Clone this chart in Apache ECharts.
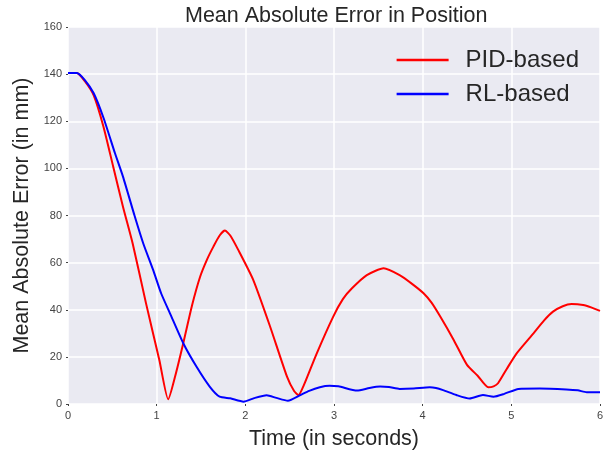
<!DOCTYPE html>
<html>
<head>
<meta charset="utf-8">
<script src="https://cdn.jsdelivr.net/npm/echarts@6/dist/echarts.min.js"></script>
<style>
  html, body { margin: 0; padding: 0; background: #fff; }
  #main { width: 616px; height: 453px; }
</style>
</head>
<body>
<div id="main"></div>
<script>
// values
var pidTime = [0, 0.1, 0.19, 0.29, 0.4, 0.51, 0.62, 0.73, 0.88, 1.03, 1.13, 1.21, 1.3, 1.4, 1.49, 1.57, 1.64, 1.71, 1.77, 1.83, 1.92, 2.09, 2.28, 2.47, 2.55, 2.6, 2.66, 2.8, 2.99, 3.1, 3.2, 3.37, 3.56, 3.74, 3.88, 4.01, 4.1, 4.2, 4.35, 4.5, 4.62, 4.74, 4.8, 4.85, 4.95, 5.06, 5.25, 5.37, 5.47, 5.58, 5.68, 5.81, 5.9, 6.0];
var pidError = [140.5, 140.5, 137, 131, 117.7, 100.7, 83.7, 68, 42.7, 18.7, 2.0, 12, 25.8, 42, 54, 61.5, 66.8, 71.5, 73.6, 71.5, 65.4, 52.6, 32.8, 11.6, 5.5, 3.8, 8, 21, 37, 44.5, 49, 54.7, 57.6, 54.7, 51, 47, 43, 37, 27.2, 16.6, 12, 7.1, 7.5, 8.8, 15, 21.5, 30, 35.5, 39.2, 41.5, 42.4, 42, 41, 39.5];

var rlTime = [0, 0.1, 0.19, 0.29, 0.4, 0.53, 0.62, 0.75, 0.85, 0.96, 1.05, 1.15, 1.3, 1.45, 1.6, 1.71, 1.83, 1.98, 2.1, 2.24, 2.35, 2.48, 2.62, 2.72, 2.84, 2.95, 3.05, 3.26, 3.4, 3.52, 3.62, 3.74, 3.9, 4.08, 4.15, 4.23, 4.38, 4.53, 4.68, 4.8, 4.92, 5.08, 5.32, 5.62, 5.75, 5.85, 6.0];
var rlError = [140.5, 140.5, 137.5, 131.9, 121.5, 106.4, 96.5, 80, 68, 56.9, 47, 38.5, 25.8, 15.8, 7.3, 3.1, 2.4, 1.0, 2.5, 3.7, 2.6, 1.4, 3.8, 5.6, 7.1, 7.7, 7.5, 5.7, 6.8, 7.4, 7.2, 6.4, 6.6, 7.1, 6.8, 5.9, 3.8, 2.3, 3.8, 3.1, 4.3, 6.4, 6.6, 6.2, 5.8, 5.0, 5.0];

var xTicks = [0, 1, 2, 3, 4, 5, 6];
var yTicks = [0, 20, 40, 60, 80, 100, 120, 140, 160];

function pairs(xs, ys) {
  return xs.map(function (x, i) { return [x, ys[i]]; });
}

var font = '"Liberation Sans", Arial, sans-serif';
var chart = echarts.init(document.getElementById('main'));

var option = {
  backgroundColor: '#ffffff',
  animation: false,
  title: {
    text: 'Mean Absolute Error in Position',
    left: 180,
    top: 0,
    textStyle: { fontFamily: font, fontSize: 21.5, fontWeight: 'normal', color: '#262626' }
  },
  grid: {
    left: 68,
    right: 16,
    top: 27,
    bottom: 49,
    outerBoundsMode: 'none',
    show: true,
    backgroundColor: '#eaeaf2',
    borderWidth: 0
  },
  legend: {
    orient: 'vertical',
    right: 32,
    top: 43,
    icon: 'rect',
    itemWidth: 52,
    itemHeight: 2.5,
    itemGap: 10,
    textStyle: { fontFamily: font, fontSize: 24, color: '#262626', padding: [0, 0, 0, 12] },
    data: ['PID-based', 'RL-based']
  },
  xAxis: {
    type: 'value',
    min: xTicks[0],
    max: xTicks[xTicks.length - 1],
    interval: 1,
    name: 'Time (in seconds)',
    nameLocation: 'middle',
    nameGap: 24,
    nameTextStyle: { fontFamily: font, fontSize: 21.5, color: '#262626' },
    axisLine: { show: false },
    axisTick: { show: true, length: 2, lineStyle: { color: '#444' } },
    axisLabel: { fontFamily: font, fontSize: 11, color: '#444', margin: 6 },
    splitLine: { show: true, lineStyle: { color: '#ffffff', width: 1.5 } }
  },
  yAxis: {
    type: 'value',
    min: yTicks[0],
    max: yTicks[yTicks.length - 1],
    interval: 20,
    name: 'Mean Absolute Error (in mm)',
    nameLocation: 'middle',
    nameGap: 34,
    nameTextStyle: { fontFamily: font, fontSize: 21.5, color: '#262626' },
    axisLine: { show: false },
    axisTick: { show: true, length: 2, lineStyle: { color: '#444' } },
    axisLabel: { fontFamily: font, fontSize: 11, color: '#444', margin: 6 },
    splitLine: { show: true, lineStyle: { color: '#ffffff', width: 1.5 } }
  },
  series: [
    {
      name: 'PID-based',
      type: 'line',
      data: pairs(pidTime, pidError),
      smooth: 0.2,
      symbol: 'none',
      color: '#ff0000',
      lineStyle: { color: '#ff0000', width: 2 }
    },
    {
      name: 'RL-based',
      type: 'line',
      data: pairs(rlTime, rlError),
      smooth: 0.2,
      symbol: 'none',
      color: '#0000ff',
      lineStyle: { color: '#0000ff', width: 2 }
    }
  ]
};

chart.setOption(option);
</script>
</body>
</html>
